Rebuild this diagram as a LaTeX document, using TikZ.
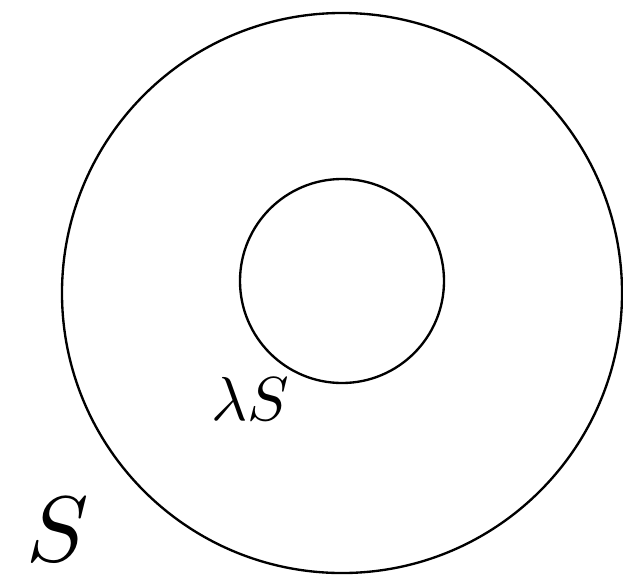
\documentclass[tikz,border=0pt]{standalone}
\usepackage{tikz}
\usetikzlibrary{positioning}

\begin{document}
\begin{tikzpicture}[
    x=0.03cm, y=-0.03cm,
    ring/.style={circle, draw, line width=2pt, inner sep=0pt, outer sep=0pt},
    hand/.style={inner sep=0pt, scale=5.3}
]
    \useasboundingbox (0,0) rectangle (623,583);

    \node[ring, minimum size=16.8cm] (outer) at (342,293) {};
    \node[ring, minimum size=6.12cm] (inner) at (342,281) {};

    \node[hand] (lams) at (250,399) {$\lambda S$};
    \node[hand, scale=1.5] (s) at (58,530) {$S$};
\end{tikzpicture}
\end{document}
